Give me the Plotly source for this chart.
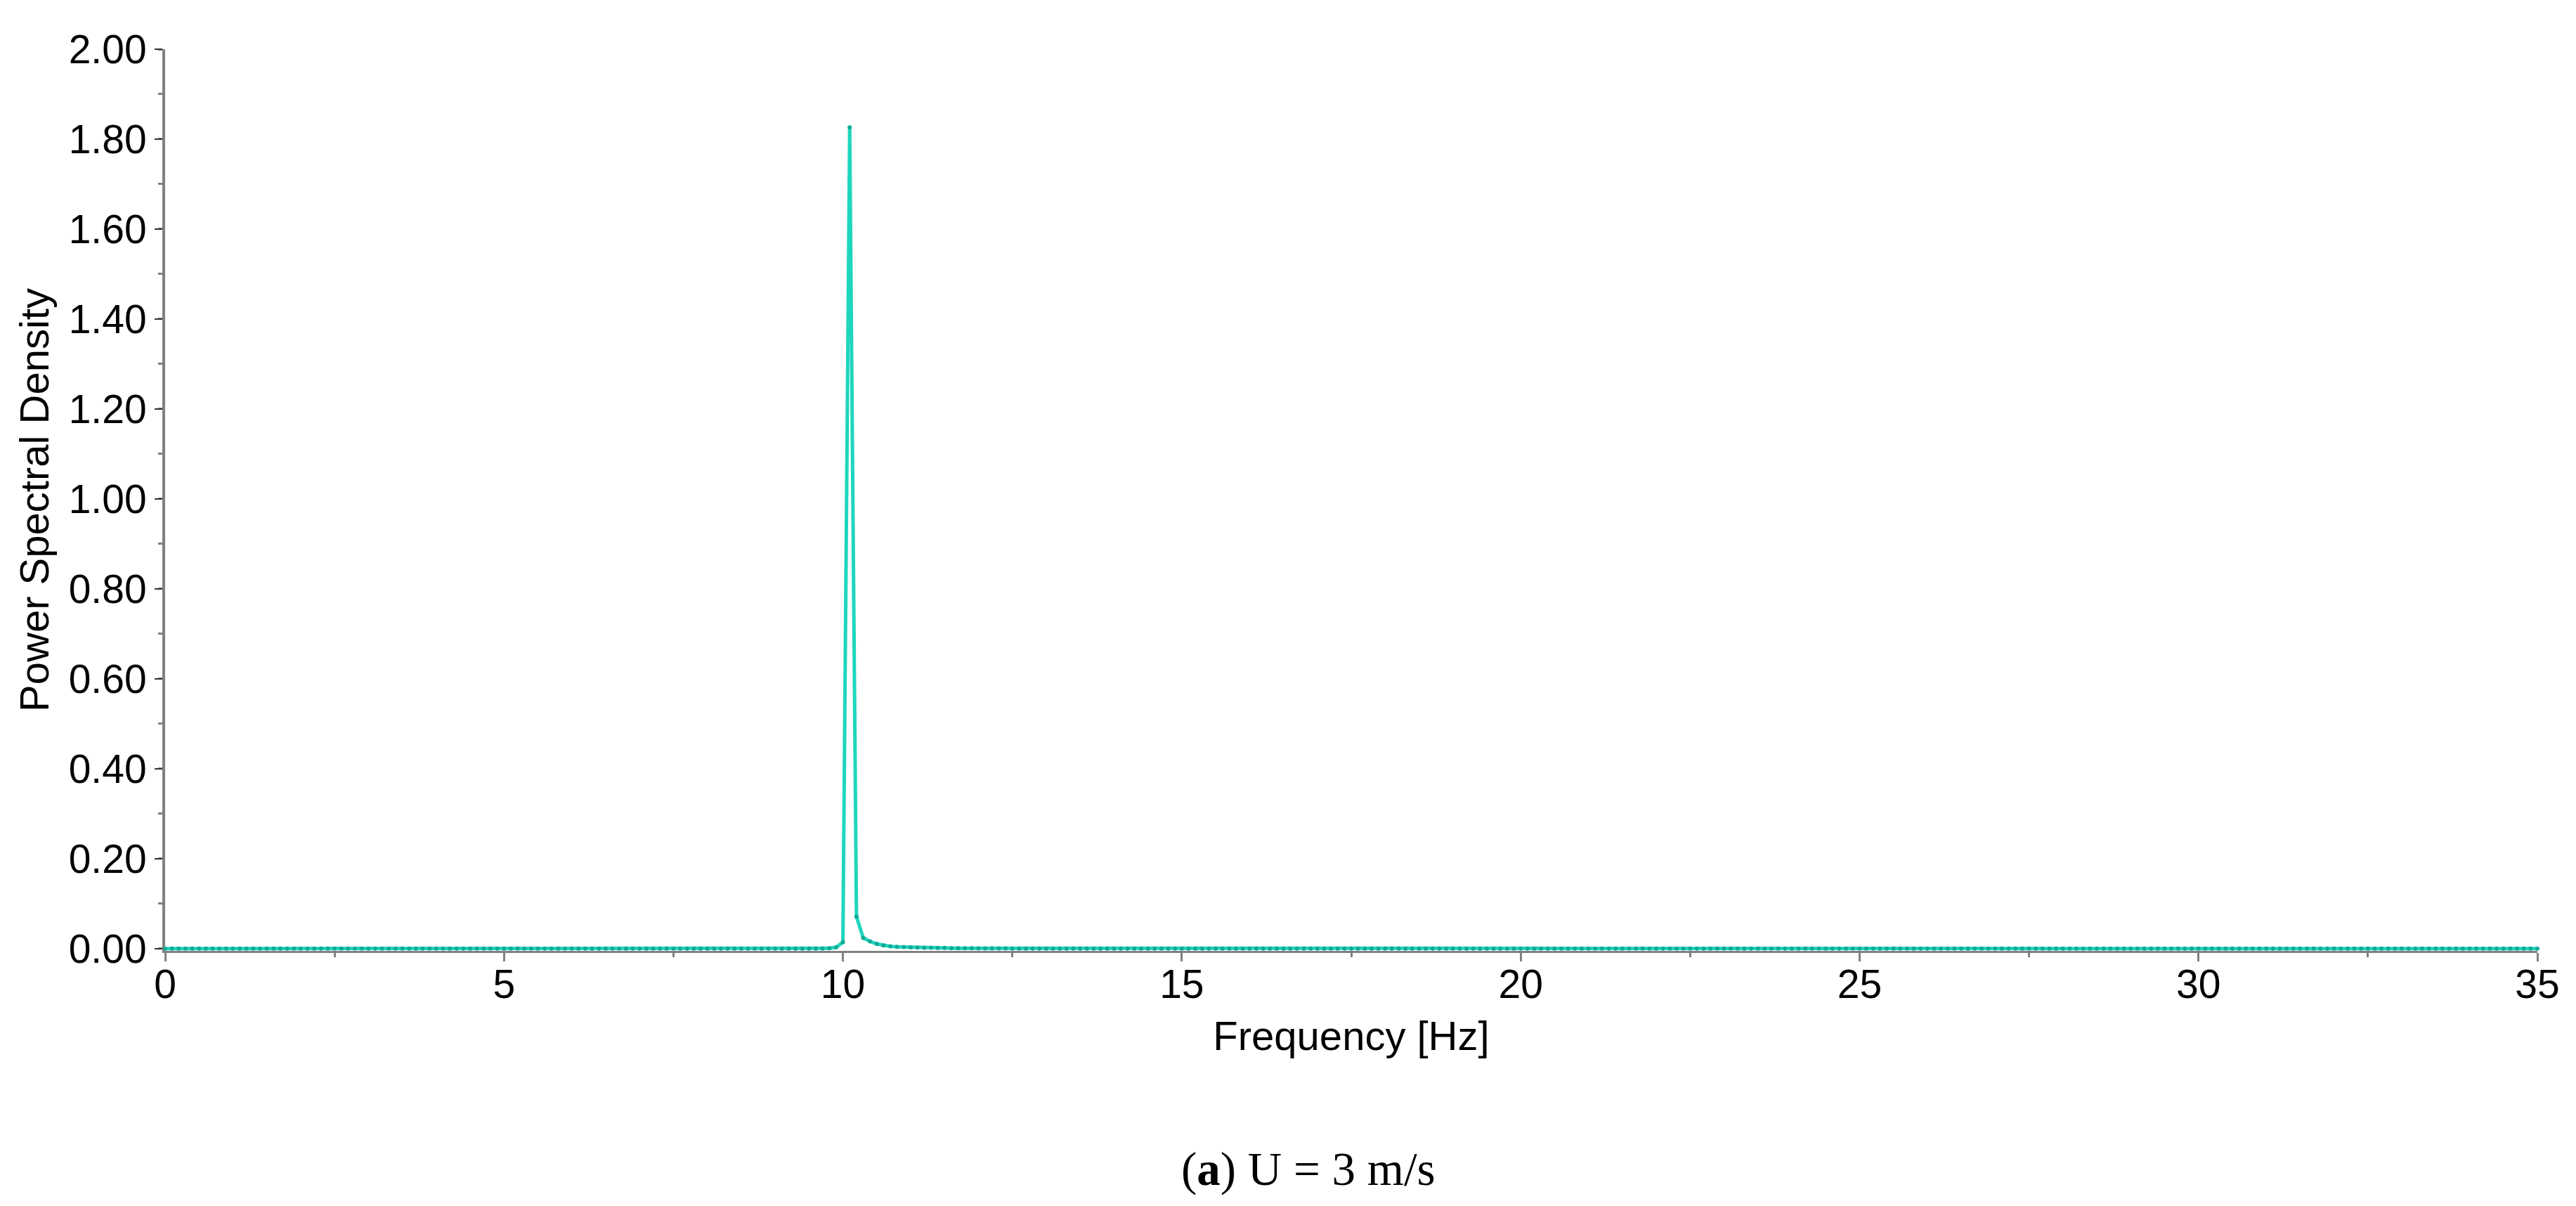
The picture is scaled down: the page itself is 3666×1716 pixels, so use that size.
import plotly.graph_objects as go

# Frequency bins: 0 .. 35 Hz, spacing 0.1 Hz (351 bins)
FREQ_STEP = 0.1

# Power spectral density values (one per 0.1 Hz bin)
psd = [
    # 0.0 - 9.9 Hz
    0, 0, 0, 0, 0, 0, 0, 0, 0, 0,
    0, 0, 0, 0, 0, 0, 0, 0, 0, 0,
    0, 0, 0, 0, 0, 0, 0, 0, 0, 0,
    0, 0, 0, 0, 0, 0, 0, 0, 0, 0,
    0, 0, 0, 0, 0, 0, 0, 0, 0, 0,
    0, 0, 0, 0, 0, 0, 0, 0, 0, 0,
    0, 0, 0, 0, 0, 0, 0, 0, 0, 0,
    0, 0, 0, 0, 0, 0, 0, 0, 0, 0,
    0, 0, 0, 0, 0, 0, 0, 0, 0, 0,
    0, 0, 0, 0, 0, 0, 0, 0, 0.001, 0.003,
    # 10.0 - 10.9 Hz
    0.014, 1.826, 0.071, 0.024, 0.016, 0.0105, 0.007, 0.005, 0.004, 0.0035,
    # 11.0 - 11.9 Hz
    0.003, 0.0025, 0.002, 0.002, 0.0015, 0.0015, 0.001, 0.001, 0.001, 0.001,
    # 12.0 - 35.0 Hz
    0.0005, 0.0005, 0.0005, 0.0005, 0.0005, 0, 0, 0, 0, 0,
    0, 0, 0, 0, 0, 0, 0, 0, 0, 0,
    0, 0, 0, 0, 0, 0, 0, 0, 0, 0,
    0, 0, 0, 0, 0, 0, 0, 0, 0, 0,
    0, 0, 0, 0, 0, 0, 0, 0, 0, 0,
    0, 0, 0, 0, 0, 0, 0, 0, 0, 0,
    0, 0, 0, 0, 0, 0, 0, 0, 0, 0,
    0, 0, 0, 0, 0, 0, 0, 0, 0, 0,
    0, 0, 0, 0, 0, 0, 0, 0, 0, 0,
    0, 0, 0, 0, 0, 0, 0, 0, 0, 0,
    0, 0, 0, 0, 0, 0, 0, 0, 0, 0,
    0, 0, 0, 0, 0, 0, 0, 0, 0, 0,
    0, 0, 0, 0, 0, 0, 0, 0, 0, 0,
    0, 0, 0, 0, 0, 0, 0, 0, 0, 0,
    0, 0, 0, 0, 0, 0, 0, 0, 0, 0,
    0, 0, 0, 0, 0, 0, 0, 0, 0, 0,
    0, 0, 0, 0, 0, 0, 0, 0, 0, 0,
    0, 0, 0, 0, 0, 0, 0, 0, 0, 0,
    0, 0, 0, 0, 0, 0, 0, 0, 0, 0,
    0, 0, 0, 0, 0, 0, 0, 0, 0, 0,
    0, 0, 0, 0, 0, 0, 0, 0, 0, 0,
    0, 0, 0, 0, 0, 0, 0, 0, 0, 0,
    0, 0, 0, 0, 0, 0, 0, 0, 0, 0,
    0,
]
freq = [round(i * FREQ_STEP, 1) for i in range(len(psd))]

x_tick_vals = [0, 5, 10, 15, 20, 25, 30, 35]
y_tick_vals = [0.0, 0.2, 0.4, 0.6, 0.8, 1.0, 1.2, 1.4, 1.6, 1.8, 2.0]
y_tick_text = ["0.00", "0.20", "0.40", "0.60", "0.80", "1.00", "1.20", "1.40", "1.60", "1.80", "2.00"]

x_title = "Frequency [Hz]"
y_title = "Power Spectral Density"
caption = "(<b>a</b>) U = 3 m/s"

LINE_COLOR = "#1ed6bd"
MARKER_COLOR = "#10aa97"
AXIS_GREY = "#808080"
SANS = "Liberation Sans, Arial, sans-serif"
SERIF = "Liberation Serif, Times New Roman, serif"
FS = 57

fig = go.Figure()
fig.add_trace(go.Scatter(
    x=freq, y=psd, mode="lines+markers",
    line=dict(color=LINE_COLOR, width=5),
    marker=dict(color=MARKER_COLOR, size=6, line=dict(width=0)),
    cliponaxis=False,
    showlegend=False,
))

fig.update_layout(
    width=3666, height=1716,
    margin=dict(l=227, r=63, t=62, b=371, autoexpand=False),
    paper_bgcolor="white", plot_bgcolor="white",
    font=dict(family=SANS, size=FS, color="black"),
)

fig.update_xaxes(
    range=[0, 35], tickvals=x_tick_vals, ticktext=[str(v) for v in x_tick_vals],
    showgrid=False, zeroline=False,
    showline=True, linecolor=AXIS_GREY, linewidth=3,
    ticks="outside", ticklen=12, tickwidth=3, tickcolor=AXIS_GREY,
    minor=dict(dtick=2.5, tick0=0, ticks="outside", ticklen=6, tickwidth=3, tickcolor=AXIS_GREY, showgrid=False),
    tickfont=dict(family=SANS, size=FS, color="black"),
    ticklabelstandoff=-16,
    title=dict(text=x_title, font=dict(family=SANS, size=FS + 1, color="black"), standoff=22),
    layer="below traces",
)
fig.update_yaxes(
    range=[-0.005, 2.0], tickvals=y_tick_vals, ticktext=y_tick_text,
    showgrid=False, zeroline=False,
    showline=True, linecolor=AXIS_GREY, linewidth=4,
    ticks="outside", ticklen=11, tickwidth=2, tickcolor="#333333",
    minor=dict(dtick=0.1, tick0=0, ticks="outside", ticklen=6, tickwidth=3, tickcolor=AXIS_GREY, showgrid=False),
    tickfont=dict(family=SANS, size=FS, color="black"),
    title=dict(text=y_title, font=dict(family=SANS, size=FS + 1, color="black"), standoff=10),
    layer="below traces",
)

fig.add_annotation(
    text=caption, xref="paper", yref="paper",
    x=0.482, y=-0.242, xanchor="center", yanchor="middle",
    showarrow=False, font=dict(family=SERIF, size=67, color="black"),
)

fig.write_html("out.html")
